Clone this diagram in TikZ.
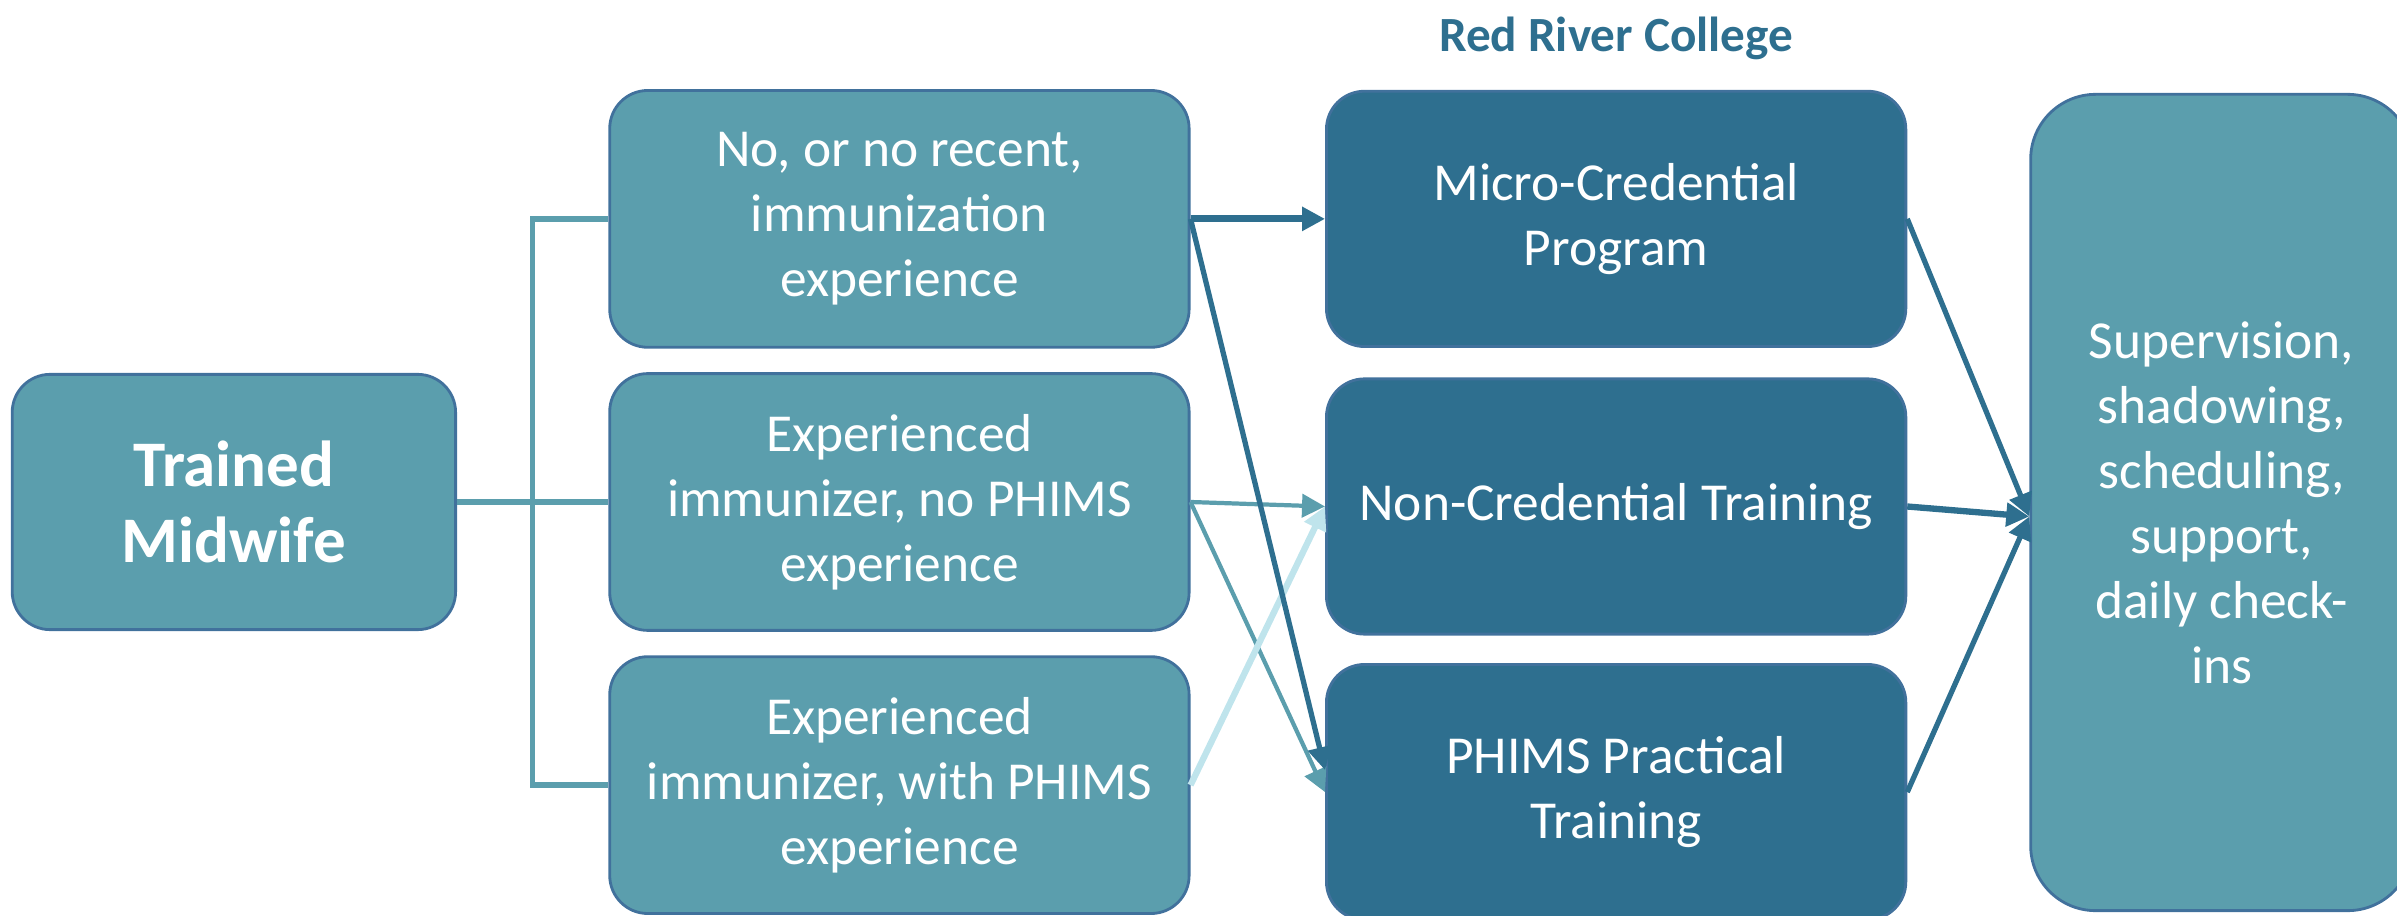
\documentclass[tikz,border=0pt]{standalone}
\usepackage{fontspec}
\setmainfont{Carlito}
\usepackage{xcolor}
\usepackage{tikz}
\usetikzlibrary{arrows.meta,positioning,calc}

\definecolor{tealbox}{HTML}{5B9EAD}
\definecolor{darkbox}{HTML}{2E6F8F}
\definecolor{edgeblue}{HTML}{41719C}
\definecolor{palearrow}{HTML}{BFE4EC}

\begin{document}
\begin{tikzpicture}[
    node distance=0.235cm and 1.345cm,
    box/.style={rectangle, draw=edgeblue, line width=0.8pt, rounded corners=0.38cm, text=white, align=center, font=\fontsize{15.2}{18.5}\selectfont},
    lbox/.style={box, fill=tealbox, minimum width=5.794cm, minimum height=2.568cm},
    dbox/.style={box, fill=darkbox, minimum width=5.794cm, minimum height=2.553cm},
    arrow/.style={-{Triangle[length=0.23cm,width=0.23cm]}, line width=1.5pt},
    link/.style={tealbox, line width=1.5pt}
]
    \useasboundingbox (0,0) rectangle (23.97,9.15);

    \node[box, fill=tealbox, minimum width=4.434cm, minimum height=2.553cm, font=\fontsize{18.5}{21.7}\selectfont\bfseries] (tm) at (2.339,4.13) {Trained\\Midwife};
    \node[lbox, right=1.513cm of tm] (noph) {Experienced\\immunizer, no PHIMS\\experience};
    \node[lbox, above=of noph] (norec) {No, or no recent,\\immunization\\experience};
    \node[lbox, below=of noph] (withph) {Experienced\\immunizer, with PHIMS\\experience};
    \node[dbox, right=of norec] (micro) {Micro-Credential\\Program};
    \node[dbox, right=of noph, yshift=-0.045cm] (noncred) {Non-Credential Training};
    \node[dbox, right=of withph, yshift=-0.07cm] (phims) {PHIMS Practical\\Training};
    \node[box, fill=tealbox, rounded corners=0.65cm, minimum width=3.82cm, minimum height=8.163cm, right=1.22cm of noncred, yshift=0.04cm] (sup) {Supervision,\\shadowing,\\scheduling,\\support,\\daily check-\\ins};
    \node[above=0.18cm of micro, text=darkbox, font=\fontsize{14}{16}\selectfont\bfseries] (rrc) {Red River College};

    % bracket from the midwife to the three groups
    \coordinate (split) at ($(tm.east)!0.5!(noph.west)$);
    \draw[link] (tm.east) -- (noph.west);
    \draw[link] (norec.west) -| (split) |- (withph.west);

    \draw[arrow, tealbox, line width=1.2pt] (noph.east) -- (noncred.west);
    \draw[arrow, tealbox, line width=1.2pt] (noph.east) -- (phims.west);
    \draw[arrow, palearrow, line width=1.8pt] (withph.east) -- (noncred.west);
    \draw[arrow, darkbox, line width=2pt] (norec.east) -- (micro.west);
    \draw[arrow, darkbox] (norec.east) -- ([yshift=0.22cm]phims.west);

    \coordinate (hub) at ([yshift=-0.14cm]sup.west);
    \draw[arrow, darkbox] (micro.east) -- (hub);
    \draw[arrow, darkbox, line width=1.8pt] (noncred.east) -- (hub);
    \draw[arrow, darkbox] (phims.east) -- (hub);
\end{tikzpicture}
\end{document}
